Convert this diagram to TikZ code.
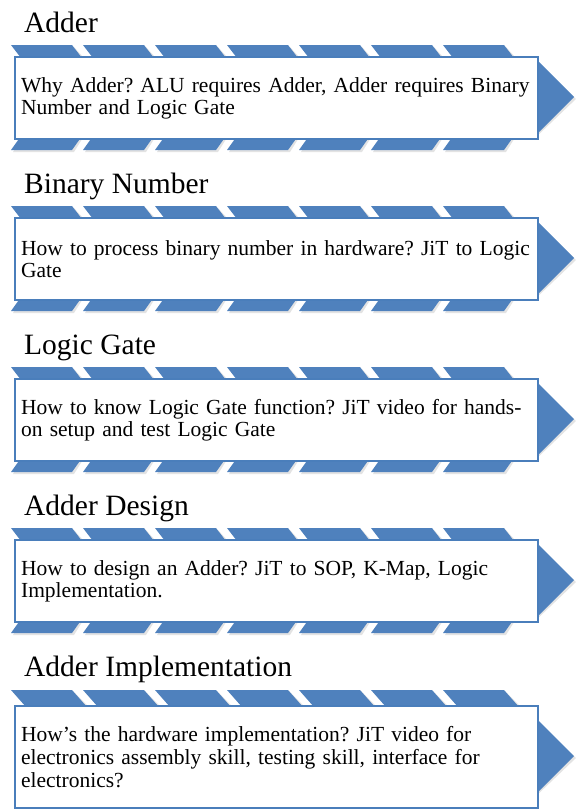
\documentclass[tikz,border=0pt]{standalone}
\usepackage{fontspec}
\setmainfont{Liberation Serif}
\usetikzlibrary{positioning}
\definecolor{band}{HTML}{4F81BD}
\definecolor{bandline}{HTML}{4A7EBB}
\frenchspacing

\begin{document}
\begin{tikzpicture}[x=1pt, y=-1pt,
  stripe/.style={fill=band},
  shade/.style={fill=black!11},
  box/.style={draw=bandline, line width=2.2pt, fill=white, anchor=north west, text width=511pt, inner xsep=6pt, inner ysep=0pt, align=left, font=\fontsize{21.5}{22}\selectfont, minimum height=82pt},
  head/.style={anchor=base west, font=\fontsize{29.5}{32}\selectfont, inner sep=0pt}]
  \useasboundingbox (0,0) rectangle (576,809);
  % striped arrows behind the boxes
  \foreach \t/\a/\b/\u/\s in {45/56/138/150/10, 206/217/299/311/10, 367/378/460/472/10, 528/539/621/633/10, 690/705/807/822/15} {
    \foreach \x in {11,83,...,443} {
      \fill[shade] (\x+2,\t+2) -- ++(61,0) -- (\x+63+\s,\a+2) -- (\x+2+\s,\a+2) -- cycle;
      \fill[shade] (\x+2,\u+2) -- ++(61,0) -- (\x+63+\s,\b-2) -- (\x+2+\s,\b-2) -- cycle;
      \fill[stripe] (\x,\t) -- ++(61,0) -- (\x+61+\s,\a+2) -- (\x+\s,\a+2) -- cycle;
      \fill[stripe] (\x,\u) -- ++(61,0) -- (\x+61+\s,\b-2) -- (\x+\s,\b-2) -- cycle;
    }
    \fill[shade] (576,{(\a+\b)/2+2}) -- (534,{(\a+\b)/2-38}) -- (534,{(\a+\b)/2+42}) -- cycle;
    \fill[stripe] (574,{(\a+\b)/2}) -- (534,{(\a+\b)/2-40}) -- (534,{(\a+\b)/2+40}) -- cycle;
  }
  \node[head] (adderhead) at (24,32) {Adder};
  \node[box] (adder) at (14,56) {Why Adder? ALU requires Adder, Adder requires Binary\\Number and Logic Gate};
  \node[head] (binaryhead) at (24,193) {Binary Number};
  \node[box] (binary) at (14,217) {How to process binary number in hardware? JiT to Logic\\Gate};
  \node[head] (gatehead) at (24,354) {Logic Gate};
  \node[box] (gate) at (14,378) {How to know Logic Gate function? JiT video for hands-\\on setup and test Logic Gate};
  \node[head] (designhead) at (24,515) {Adder Design};
  \node[box] (design) at (14,539) {How to design an Adder? JiT to SOP, K-Map, Logic\\Implementation.};
  \node[head] (implhead) at (24,676) {Adder Implementation};
  \node[box, minimum height=102pt, font=\fontsize{21.5}{23}\selectfont] (impl) at (14,705) {How’s the hardware implementation? JiT video for\\electronics assembly skill, testing skill, interface for\\electronics?};
\end{tikzpicture}
\end{document}
